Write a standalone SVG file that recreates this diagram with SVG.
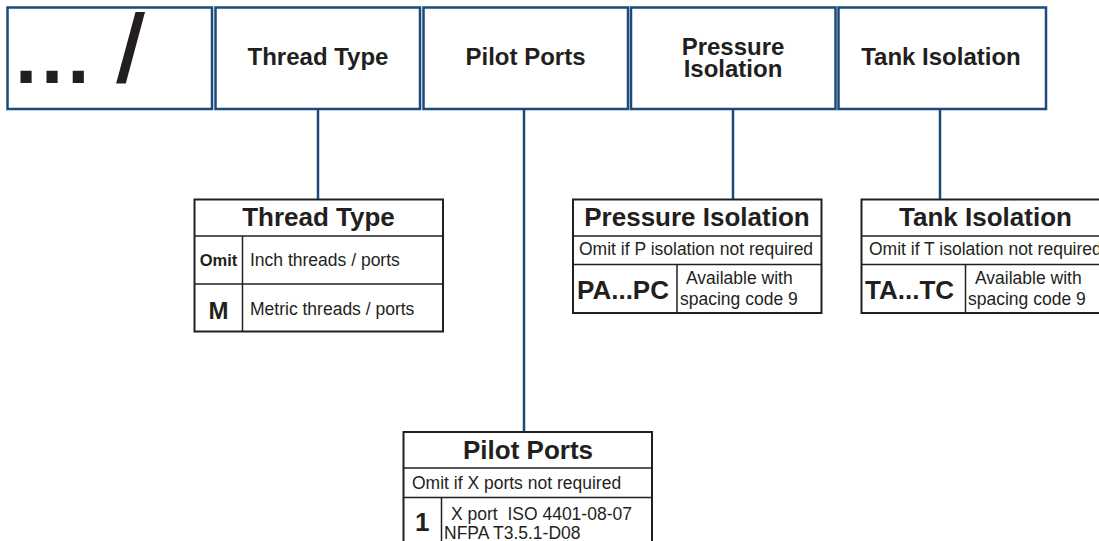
<svg xmlns="http://www.w3.org/2000/svg" width="1099" height="541" viewBox="0 0 1099 541">
<style>
.hdr{fill:#fff;stroke:#1d4a7a;stroke-width:2.5}
.con{stroke:#1d4a7a;stroke-width:2.5;fill:none}
.tb{fill:#fff;stroke:#231f20;stroke-width:2}
.ln{stroke:#231f20;stroke-width:1.5;fill:none}
text{font-family:"Liberation Sans",Arial,sans-serif;fill:#231f20}
.h{font-size:24px;font-weight:bold;text-anchor:middle}
.t{font-size:26px;font-weight:bold;text-anchor:middle}
.s{font-size:17.5px}
.b{font-size:26px;font-weight:bold}
</style>
<rect width="1099" height="541" fill="#fff"/>
<g id="connectors">
<line class="con" x1="318" y1="109" x2="318" y2="200"/>
<line class="con" x1="524" y1="109" x2="524" y2="432"/>
<line class="con" x1="733" y1="109" x2="733" y2="200"/>
<line class="con" x1="940" y1="109" x2="940" y2="200"/>
</g>
<g id="hdr-prefix">
<rect class="hdr" x="7.5" y="7.5" width="204.5" height="101.5"/>
<text x="13" y="82" style="font-size:94px;stroke:#231f20;stroke-width:2.2">... /</text>
</g>
<g id="hdr-thread">
<rect class="hdr" x="215.5" y="7.5" width="204.5" height="101.5"/>
<text class="h" x="318" y="65">Thread Type</text>
</g>
<g id="hdr-pilot">
<rect class="hdr" x="423.5" y="7.5" width="204.5" height="101.5"/>
<text class="h" x="525.5" y="65">Pilot Ports</text>
</g>
<g id="hdr-pressure">
<rect class="hdr" x="631" y="7.5" width="204.5" height="101.5"/>
<text class="h" x="733" y="54.5">Pressure<tspan x="733" dy="22.5">Isolation</tspan></text>
</g>
<g id="hdr-tank">
<rect class="hdr" x="838.5" y="7.5" width="207.5" height="101.5"/>
<text class="h" x="941" y="65">Tank Isolation</text>
</g>
<g id="tbl-thread">
<rect class="tb" x="194.5" y="199.5" width="248.5" height="132"/>
<line class="ln" x1="194.5" y1="236" x2="443" y2="236"/>
<line class="ln" x1="194.5" y1="284" x2="443" y2="284"/>
<line class="ln" x1="242.5" y1="236" x2="242.5" y2="331.5"/>
<text class="t" x="318.5" y="226">Thread Type</text>
<text x="218.5" y="266" style="font-size:16.5px;font-weight:bold;text-anchor:middle">Omit</text>
<text class="s" x="250" y="266">Inch threads / ports</text>
<text x="218.5" y="319" style="font-size:24px;font-weight:bold;text-anchor:middle">M</text>
<text class="s" x="250" y="315">Metric threads / ports</text>
</g>
<g id="tbl-pressure">
<rect class="tb" x="573" y="199.5" width="248.5" height="113.5"/>
<line class="ln" x1="573" y1="236" x2="821.5" y2="236"/>
<line class="ln" x1="573" y1="264.5" x2="821.5" y2="264.5"/>
<line class="ln" x1="677" y1="264.5" x2="677" y2="313"/>
<text class="t" x="697" y="226">Pressure Isolation</text>
<text class="s" x="579" y="255">Omit if P isolation not required</text>
<text class="b" x="577" y="299">PA...PC</text>
<text class="s" x="686" y="284">Available with</text>
<text class="s" x="680" y="305">spacing code 9</text>
</g>
<g id="tbl-tank">
<rect class="tb" x="861.5" y="199.5" width="248.5" height="113.5"/>
<line class="ln" x1="861.5" y1="236" x2="1110" y2="236"/>
<line class="ln" x1="861.5" y1="264.5" x2="1110" y2="264.5"/>
<line class="ln" x1="965.5" y1="264.5" x2="965.5" y2="313"/>
<text class="t" x="985.5" y="226">Tank Isolation</text>
<text class="s" x="869" y="255">Omit if T isolation not required</text>
<text class="b" x="865" y="299">TA...TC</text>
<text class="s" x="975" y="284">Available with</text>
<text class="s" x="968" y="305">spacing code 9</text>
</g>
<g id="tbl-pilot">
<rect class="tb" x="403.5" y="432" width="248.5" height="130"/>
<line class="ln" x1="403.5" y1="468" x2="652" y2="468"/>
<line class="ln" x1="403.5" y1="497.5" x2="652" y2="497.5"/>
<line class="ln" x1="441.5" y1="497.5" x2="441.5" y2="562"/>
<text class="t" x="528" y="459">Pilot Ports</text>
<text class="s" x="412" y="489">Omit if X ports not required</text>
<text class="b" x="415" y="531">1</text>
<text class="s" x="451" y="520" xml:space="preserve">X port  ISO 4401-08-07</text>
<text class="s" x="444" y="539">NFPA T3.5.1-D08</text>
</g>
</svg>
